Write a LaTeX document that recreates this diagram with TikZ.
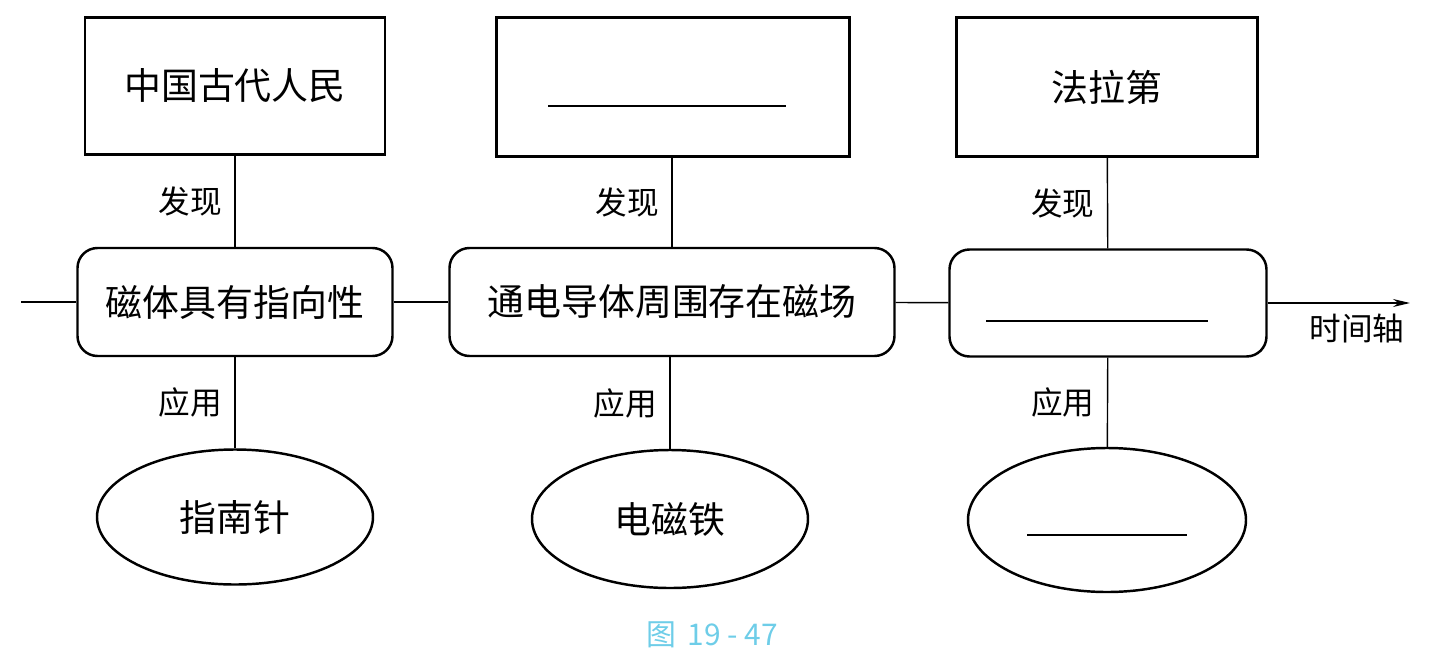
\documentclass[tikz,border=0pt]{standalone}
\usepackage{fontspec}
\setmainfont{Noto Sans CJK SC}
\usetikzlibrary{shapes.geometric,arrows.meta}
\definecolor{capcyan}{RGB}{110,205,232}

\begin{document}
\begin{tikzpicture}[>={Stealth[length=0.34cm, width=0.16cm]},
    person/.style={draw, rectangle, line width=1.4pt, font=\fontsize{21}{25}\selectfont},
    event/.style={draw, rectangle, rounded corners=0.4cm, line width=1.4pt, font=\fontsize{21}{25}\selectfont},
    usage/.style={draw, ellipse, inner sep=0pt, line width=1.4pt, font=\fontsize{21}{25}\selectfont},
    link/.style={line width=0.8pt},
    tag/.style={font=\fontsize{18}{22}\selectfont, inner sep=0.25cm}]
    % time line of discoveries about magnetism
    \useasboundingbox (0,0) rectangle (28.88,-13.24);

    \node (top1) at (4.7,-1.72) [person, minimum width=6.0cm, minimum height=2.74cm] {中国古代人民};
    \node (top2) at (13.46,-1.74) [person, minimum width=7.06cm, minimum height=2.78cm] {};
    \node (top3) at (22.14,-1.74) [person, minimum width=6.02cm, minimum height=2.78cm] {法拉第};

    \node (mid1) at (4.7,-6.04) [event, minimum width=6.3cm, minimum height=2.16cm] {磁体具有指向性};
    \node (mid2) at (13.44,-6.04) [event, minimum width=8.9cm, minimum height=2.16cm] {通电导体周围存在磁场};
    \node (mid3) at (22.16,-6.06) [event, minimum width=6.34cm, minimum height=2.14cm] {};

    \node (use1) at (4.7,-10.34) [usage, minimum width=5.52cm, minimum height=2.7cm] {指南针};
    \node (use2) at (13.4,-10.38) [usage, minimum width=5.52cm, minimum height=2.76cm] {电磁铁};
    \node (use3) at (22.14,-10.4) [usage, minimum width=5.56cm, minimum height=2.88cm] {};

    % blanks to fill in
    \draw [link] ([xshift=-2.5cm, yshift=-0.38cm]top2.center) -- ++(4.76,0);
    \draw [link] ([xshift=-2.44cm, yshift=-0.36cm]mid3.center) -- ++(4.44,0);
    \draw [link] ([xshift=-1.6cm, yshift=-0.3cm]use3.center) -- ++(3.2,0);

    \draw [link] (top1) -- node [tag, left] {发现} (mid1);
    \draw [link] (top2.south -| mid2) -- node [tag, left] {发现} (mid2);
    \draw [link] (top3) -- node [tag, left] {发现} (mid3);

    \draw [link] (mid1) -- node [tag, left] {应用} (use1);
    \draw [link] (mid2.south -| use2) -- node [tag, left] {应用} (use2);
    \draw [link] (mid3) -- node [tag, left] {应用} (use3);

    \coordinate (tstart) at (0.42,-6.04);
    \coordinate (tend) at (28.2,-6.06);
    \draw [link] (tstart) -- (mid1);
    \draw [link] (mid1) -- (mid2);
    \draw [link] (mid2) -- (mid3);
    \draw [link, ->] (mid3) -- (tend) node [tag, below left, inner sep=0.1cm, yshift=-0.1cm] {时间轴};

    \node (caption) at (14.24,-12.7) [text=capcyan, font=\fontsize{17}{20}\selectfont] {图\, 19 - 47};
\end{tikzpicture}
\end{document}
